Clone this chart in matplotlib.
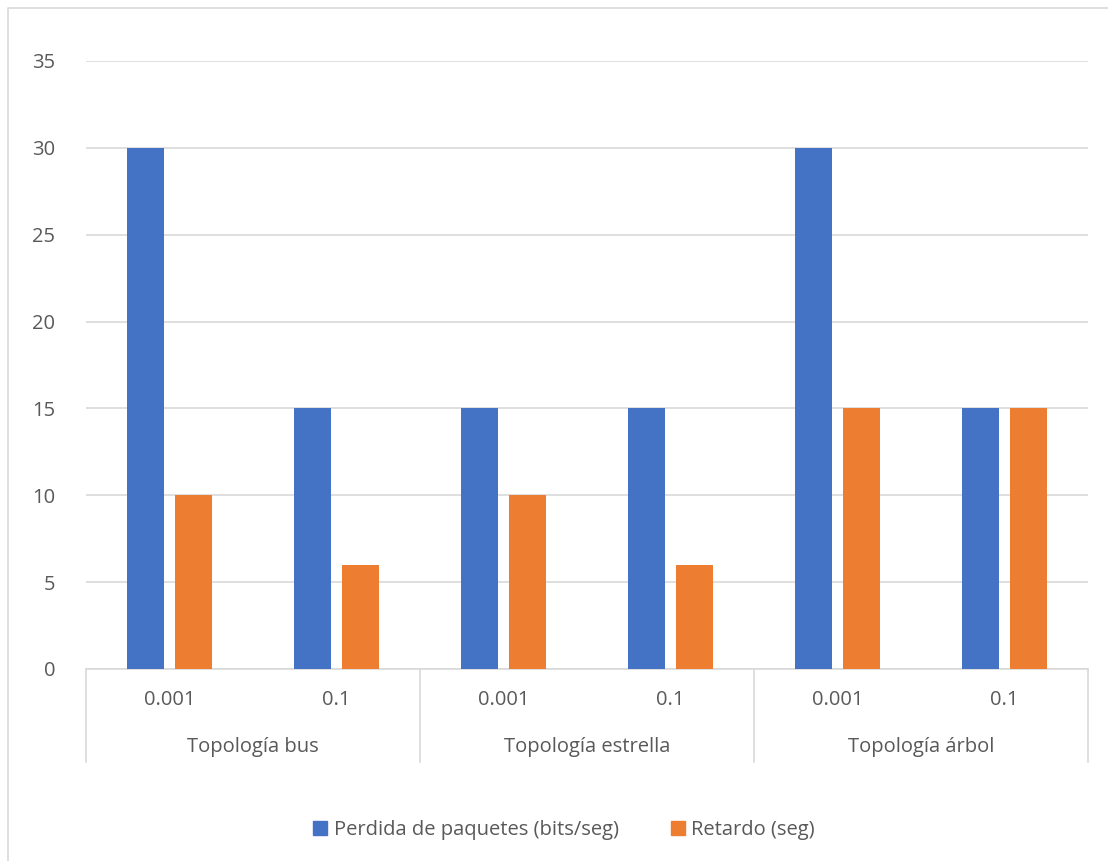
import matplotlib
matplotlib.use("Agg")
import matplotlib.pyplot as plt
from matplotlib.lines import Line2D
from matplotlib.patches import Patch
import matplotlib.transforms as mtransforms
import numpy as np

# data
groups = ["Topología bus", "Topología estrella", "Topología árbol"]
sub_labels = ["0.001", "0.1"]
perdida = [30, 15, 15, 15, 30, 15]
retardo = [10, 6, 10, 6, 15, 15]
series_names = ["Perdida de paquetes (bits/seg)", "Retardo (seg)"]

blue = "#4472C4"
orange = "#ED7D31"
txt = "#595959"
grid_c = "#D9D9D9"
fs = 14.5

plt.rcParams['font.family'] = ['Open Sans', 'DejaVu Sans']

W, H = 1108, 861
fig = plt.figure(figsize=(W / 100, H / 100), dpi=100)

def fx(px):
    return px / W

def fy(py):
    return 1 - py / H

ax = fig.add_axes([fx(86), fy(669), fx(1088) - fx(86), fy(61) - fy(669)])

n = len(perdida)
x = np.arange(n)
bw = 0.225
gap = 0.06
ax.bar(x - (bw + gap) / 2, perdida, width=bw, color=blue, zorder=3)
ax.bar(x + (bw + gap) / 2, retardo, width=bw, color=orange, zorder=3)

ax.set_xlim(-0.5, n - 0.5)
ax.set_ylim(0, 35)
ax.set_yticks(np.arange(0, 36, 5))
ax.yaxis.grid(True, color=grid_c, linewidth=1.2, zorder=0)
ax.set_axisbelow(True)
for s in ["top", "right", "left"]:
    ax.spines[s].set_visible(False)
ax.spines["bottom"].set_color(grid_c)
ax.spines["bottom"].set_linewidth(1.2)
ax.tick_params(axis="y", length=0, labelsize=fs, labelcolor=txt, pad=22)
ax.set_xticks([])

# multi-level category axis
bt = mtransforms.blended_transform_factory(ax.transData, fig.transFigure)
for i in range(n):
    ax.text(x[i], fy(700), sub_labels[i % 2], transform=bt,
            ha="center", va="center", fontsize=fs, color=txt)
for g, name in enumerate(groups):
    ax.text(2 * g + 0.5, fy(747), name, transform=bt,
            ha="center", va="center", fontsize=fs, color=txt)
for b in [-0.5, 1.5, 3.5, 5.5]:
    ax.plot([b, b], [fy(669), fy(762)], transform=bt,
            color=grid_c, linewidth=1.2, clip_on=False)

# chart border (top and left visible only)
fig.add_artist(Line2D([fx(8), fx(8), fx(1108)], [fy(861), fy(8), fy(8)],
                      color="#D9D9D9", linewidth=1.2))

handles = [Patch(color=blue), Patch(color=orange)]
fig.legend(handles, series_names, loc="center", bbox_to_anchor=(fx(564), fy(830)),
           ncol=2, frameon=False, fontsize=fs, labelcolor=txt,
           handlelength=0.7, handleheight=0.7, handletextpad=0.3, columnspacing=2.6)

fig.savefig("out.png", dpi=100)
